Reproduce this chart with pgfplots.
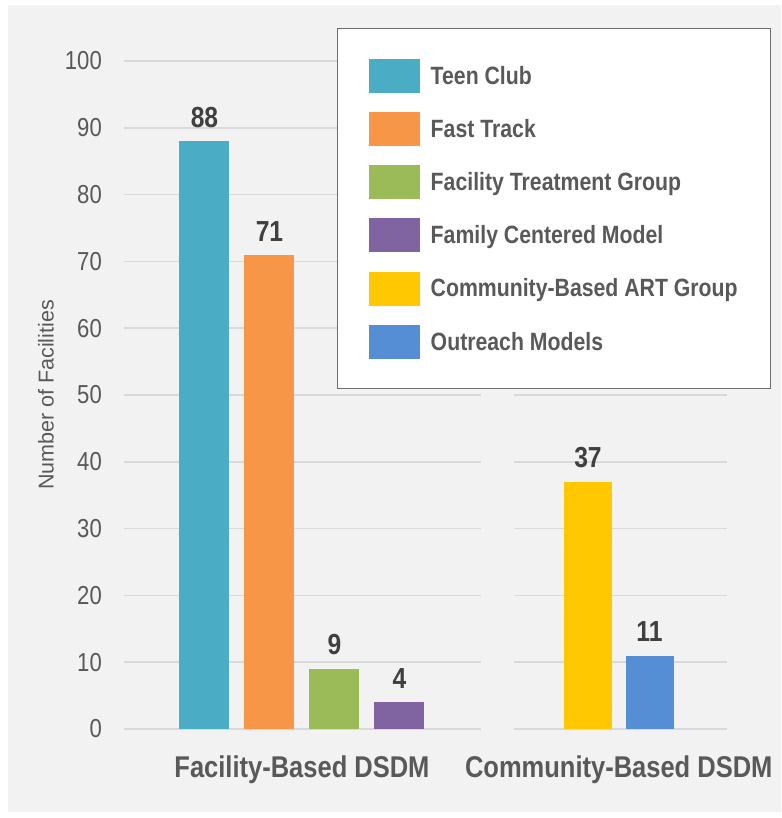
\documentclass[border=0pt]{standalone}
\usepackage{pgfplots}
\pgfplotsset{compat=1.18}
\usepackage{fontspec}
\setmainfont{Liberation Sans}[FakeStretch=0.85]
\newfontfamily\ylabfont{Liberation Sans}
\definecolor{bggray}{HTML}{F2F2F2}
\definecolor{gridgray}{HTML}{D9D9D9}
\definecolor{textgray}{HTML}{595959}
\definecolor{labelgray}{HTML}{404040}
\definecolor{legendgray}{HTML}{6E6E6E}
\definecolor{cteal}{HTML}{4BACC6}
\definecolor{corange}{HTML}{F79646}
\definecolor{cgreen}{HTML}{9BBB59}
\definecolor{cpurple}{HTML}{8064A2}
\definecolor{cyellow}{HTML}{FFC800}
\definecolor{cblue}{HTML}{558ED5}
\begin{document}
\begin{tikzpicture}
\fill[white] (0pt,0pt) rectangle (781pt,818pt);
\fill[bggray] (8pt,6pt) rectangle (781pt,813pt);
\pgfplotsset{
  dsdm/.style={
    scale only axis, height=668pt, ymin=0, ymax=100, ytick={0,10,...,100},
    axis line style={draw=none}, tick style={draw=none},
    ymajorgrids, major grid style={draw=gridgray, line width=1.5pt},
    xticklabel style={font=\fontsize{30}{36}\selectfont\bfseries, text=textgray, inner sep=0pt, yshift=-27pt, anchor=north},
    yticklabel style={font=\fontsize{26}{31}\selectfont, text=textgray, inner sep=0pt, xshift=-22pt, anchor=east},
    /pgf/number format/assume math mode=true,
    legend image code/.code={\draw[#1, draw=none] (0pt,-17pt) rectangle (51pt,17pt);},
    every node near coord/.append style={font=\fontsize{29}{34}\selectfont\bfseries, text=labelgray, inner sep=0pt, yshift=13.5pt},
    clip=false,
  }
}
% Right group (drawn first so the legend of the left axis lies on top)
\begin{axis}[dsdm, at={(514pt,89pt)}, anchor=south west, width=213pt,
  xmin=-0.203, xmax=3.26, xtick={1.5}, xticklabels={Community-Based DSDM}, yticklabels={}]
\addplot[ybar, bar width=48pt, bar shift=0pt, fill=cyellow, draw=none, nodes near coords] coordinates {(1,37)};
\addplot[ybar, bar width=48pt, bar shift=0pt, fill=cblue, draw=none, nodes near coords] coordinates {(2,11)};
\end{axis}
% Left group
\begin{axis}[dsdm, at={(124pt,89pt)}, anchor=south west, width=357pt,
  xmin=-0.238, xmax=5.254, xtick={2.5}, xticklabels={Facility-Based DSDM},
  ylabel={Number of Facilities},
  ylabel style={font=\ylabfont\fontsize{21.5}{26}\selectfont, text=textgray, at={(axis description cs:-0.2185,0.5)}, anchor=center},
  legend cell align=left,
  legend style={at={(0.5966,1.0494)}, anchor=north west, draw=legendgray, line width=1.5pt, fill=white,
    font=\fontsize{25}{30}\selectfont\bfseries, nodes={text=textgray},
    row sep=19.2pt, column sep=9pt, inner xsep=31pt, inner ysep=30pt}]
\addplot[ybar, bar width=50pt, bar shift=0pt, fill=cteal, draw=none, nodes near coords] coordinates {(1,88)};
\addplot[ybar, bar width=50pt, bar shift=0pt, fill=corange, draw=none, nodes near coords] coordinates {(2,71)};
\addplot[ybar, bar width=50pt, bar shift=0pt, fill=cgreen, draw=none, nodes near coords] coordinates {(3,9)};
\addplot[ybar, bar width=50pt, bar shift=0pt, fill=cpurple, draw=none, nodes near coords] coordinates {(4,4)};
\addlegendimage{fill=cyellow, draw=none}
\addlegendimage{fill=cblue, draw=none}
\legend{Teen Club, Fast Track, Facility Treatment Group, Family Centered Model, Community-Based ART Group, Outreach Models}
\end{axis}
\end{tikzpicture}
\end{document}
